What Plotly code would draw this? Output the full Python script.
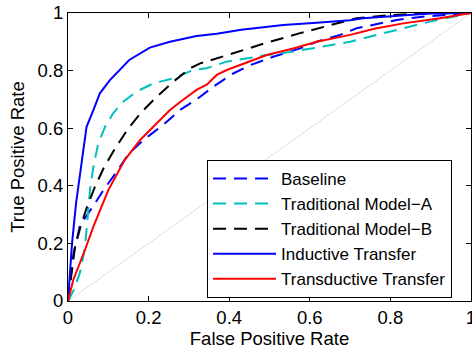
import plotly.graph_objects as go

# ---- data ----
baseline_fpr = [0, 0.006, 0.013, 0.03, 0.063, 0.088, 0.121, 0.15, 0.187, 0.236, 0.278, 0.328, 0.36, 0.41, 0.452, 0.509, 0.576, 0.617, 0.675, 0.716, 0.816, 0.88, 1.0]
baseline_tpr = [0, 0.08, 0.16, 0.264, 0.33, 0.385, 0.449, 0.51, 0.559, 0.611, 0.663, 0.709, 0.744, 0.79, 0.819, 0.848, 0.877, 0.90, 0.924, 0.947, 0.976, 0.987, 1.0]

tma_fpr = [0, 0.015, 0.03, 0.042, 0.05, 0.055, 0.063, 0.075, 0.092, 0.112, 0.137, 0.17, 0.212, 0.261, 0.311, 0.344, 0.394, 0.493, 0.559, 0.634, 0.70, 0.732, 0.816, 0.898, 1.0]
tma_tpr = [0, 0.04, 0.10, 0.184, 0.31, 0.392, 0.466, 0.547, 0.605, 0.652, 0.692, 0.727, 0.756, 0.773, 0.802, 0.808, 0.831, 0.854, 0.866, 0.883, 0.90, 0.912, 0.941, 0.97, 1.0]

tmb_fpr = [0, 0.004, 0.009, 0.017, 0.03, 0.046, 0.067, 0.088, 0.117, 0.15, 0.183, 0.22, 0.261, 0.303, 0.328, 0.41, 0.493, 0.576, 0.658, 0.716, 0.80, 0.898, 1.0]
tmb_tpr = [0, 0.05, 0.097, 0.184, 0.253, 0.322, 0.397, 0.46, 0.53, 0.60, 0.657, 0.709, 0.761, 0.808, 0.825, 0.86, 0.897, 0.93, 0.962, 0.982, 0.993, 0.999, 1.0]

ind_fpr = [0, 0.005, 0.01, 0.02, 0.031, 0.046, 0.063, 0.079, 0.104, 0.129, 0.152, 0.203, 0.253, 0.319, 0.369, 0.43, 0.534, 0.617, 0.70, 0.732, 0.816, 0.898, 1.0]
ind_tpr = [0, 0.10, 0.20, 0.34, 0.455, 0.605, 0.663, 0.721, 0.767, 0.802, 0.837, 0.88, 0.90, 0.92, 0.928, 0.942, 0.958, 0.966, 0.975, 0.982, 0.99, 0.998, 1.0]

trd_fpr = [0, 0.013, 0.042, 0.063, 0.1, 0.141, 0.179, 0.228, 0.253, 0.285, 0.319, 0.345, 0.369, 0.394, 0.452, 0.493, 0.559, 0.617, 0.70, 0.76, 0.832, 0.923, 1.0]
trd_tpr = [0, 0.073, 0.177, 0.258, 0.385, 0.49, 0.559, 0.628, 0.663, 0.698, 0.733, 0.752, 0.785, 0.802, 0.831, 0.854, 0.877, 0.90, 0.924, 0.945, 0.964, 0.982, 1.0]

diag = [0, 1]
tick_vals = [0, 0.2, 0.4, 0.6, 0.8, 1]
tick_text = ["0", "0.2", "0.4", "0.6", "0.8", "1"]

FONT = "Liberation Sans, Arial, Helvetica, sans-serif"
FS = 18.5
LFS = 17
DASH = "13px,8px"

fig = go.Figure()
fig.add_trace(go.Scatter(x=diag, y=diag, mode="lines", showlegend=False,
                         line=dict(color="#dedede", width=1), hoverinfo="skip"))
series = [
    ("Baseline", baseline_fpr, baseline_tpr, "#0000ff", DASH),
    ("Traditional Model\u2212A", tma_fpr, tma_tpr, "#00bfbf", DASH),
    ("Traditional Model\u2212B", tmb_fpr, tmb_tpr, "#000000", DASH),
    ("Inductive Transfer", ind_fpr, ind_tpr, "#0000ff", "solid"),
    ("Transductive Transfer", trd_fpr, trd_tpr, "#ff0000", "solid"),
]
for name, xs, ys, col, dash in series:
    fig.add_trace(go.Scatter(x=xs, y=ys, mode="lines", name=name,
                             line=dict(color=col, width=2, dash=dash)))

axis_common = dict(
    range=[0, 1], showgrid=False, zeroline=False, automargin=False,
    showline=True, linecolor="black", linewidth=1, mirror="ticks",
    ticks="inside", ticklen=5, tickcolor="black",
    tickvals=tick_vals, ticktext=tick_text, ticklabeloverflow="allow",
    tickfont=dict(family=FONT, size=FS, color="black"),
)
fig.update_xaxes(**axis_common,
                 title=dict(text="False Positive Rate", font=dict(family=FONT, size=FS, color="black"), standoff=2))
fig.update_yaxes(**axis_common,
                 title=dict(text="True Positive Rate", font=dict(family=FONT, size=FS, color="black"), standoff=8))

fig.update_layout(
    width=472, height=350, autosize=False,
    margin=dict(l=68, r=1, t=13, b=49),
    paper_bgcolor="white", plot_bgcolor="white",
    font=dict(family=FONT, size=FS, color="black"),
    legend=dict(x=0.345, y=0.49, xanchor="left", yanchor="top",
                bgcolor="white", bordercolor="black", borderwidth=1,
                font=dict(family=FONT, size=LFS, color="black"),
                itemwidth=63, tracegroupgap=0),
)

post = (
    "document.documentElement.style.margin='0';"
    "document.documentElement.style.overflow='hidden';"
    "document.body.style.margin='0';"
    "document.body.style.padding='0';"
    "document.body.style.overflow='hidden';"
    "var gd=document.getElementById('{plot_id}');"
    "Plotly.relayout(gd,{width:472,height:350});"
)

fig.write_html("out.html", config={"responsive": False, "displayModeBar": False}, post_script=post)
